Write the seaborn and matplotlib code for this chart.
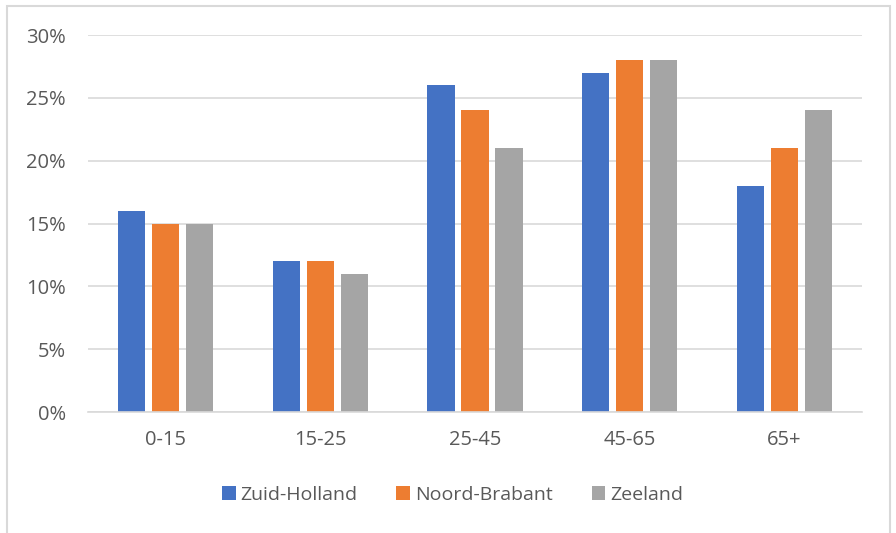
import matplotlib
matplotlib.use("Agg")
import matplotlib.pyplot as plt
from matplotlib.patches import Rectangle
from matplotlib.ticker import PercentFormatter
import pandas as pd
import seaborn as sns

# ── data ──
age_groups = ["0-15", "15-25", "25-45", "45-65", "65+"]
regions = ["Zuid-Holland", "Noord-Brabant", "Zeeland"]
zuid_holland = [16, 12, 26, 27, 18]
noord_brabant = [15, 12, 24, 28, 21]
zeeland = [15, 11, 21, 28, 24]
colors = ["#4472C4", "#ED7D31", "#A5A5A5"]

df = pd.DataFrame({
    "age": age_groups * 3,
    "region": [r for r in regions for _ in age_groups],
    "pct": zuid_holland + noord_brabant + zeeland,
})

sns.set_theme(style="white")
plt.rcParams["font.family"] = ["Open Sans", "DejaVu Sans"]
text_col = "#595959"
grid_col = "#D9D9D9"

fig = plt.figure(figsize=(8.96, 5.33), dpi=100)
ax = fig.add_axes([88 / 896, 1 - 412 / 533, (862 - 88) / 896, (412 - 35) / 533])

sns.barplot(data=df, x="age", y="pct", hue="region", order=age_groups,
            hue_order=regions, palette=colors, width=0.66, gap=0.2,
            saturation=1, linewidth=0, ax=ax, legend=True)

ax.set_ylim(0, 30)
ax.set_yticks(range(0, 31, 5))
ax.yaxis.set_major_formatter(PercentFormatter(decimals=0))
ax.set_xlim(-0.5, 4.5)
ax.set_xlabel("")
ax.set_ylabel("")
ax.grid(axis="y", color=grid_col, linewidth=1.2)
ax.set_axisbelow(True)
for s in ["top", "right", "left"]:
    ax.spines[s].set_visible(False)
ax.spines["bottom"].set_color(grid_col)
ax.spines["bottom"].set_linewidth(1.2)
ax.tick_params(axis="both", length=0, labelsize=14.5, colors=text_col)
ax.tick_params(axis="y", pad=16)
ax.tick_params(axis="x", pad=13)

ax.legend(loc="center", bbox_to_anchor=(0.505, 1 - 495 / 533), bbox_transform=fig.transFigure,
          ncol=3, frameon=False, fontsize=14, labelcolor=text_col,
          handlelength=0.7, handleheight=0.7, handletextpad=0.25, columnspacing=2.0)

# chart border
fig.patches.append(Rectangle((7 / 896, -0.05), (890 - 7) / 896, 1.05 - 6 / 533,
                             transform=fig.transFigure, fill=False,
                             edgecolor="#D9D9D9", linewidth=1.5))

fig.savefig("out.png", dpi=100)
